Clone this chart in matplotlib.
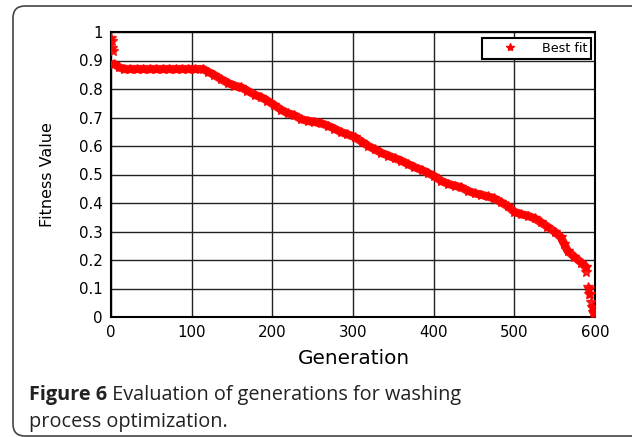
import matplotlib
matplotlib.use("Agg")
import matplotlib.pyplot as plt
import matplotlib.patches as mpatches
from matplotlib.lines import Line2D

# ---- data ----
gen_main = [4, 10, 16, 24, 32, 40, 48, 56, 64, 72, 80, 88, 96, 104, 114,
            120, 128, 136, 145, 153, 161, 169, 178, 186, 194, 202, 211, 219,
            227, 236, 244, 252, 260, 269, 277, 285, 293, 302, 311, 319, 327,
            335, 344, 352, 360, 368, 376, 385, 393, 401, 409, 418, 426, 434,
            442, 451, 459, 467, 475, 484, 492, 500, 508, 517, 525, 533, 541,
            550, 558, 562, 566, 574, 583, 589]
fit_main = [0.888, 0.876, 0.870, 0.870, 0.870, 0.870, 0.870, 0.870, 0.870,
            0.870, 0.870, 0.870, 0.870, 0.870, 0.870,
            0.861, 0.849, 0.835, 0.821, 0.812, 0.806, 0.794, 0.780, 0.771,
            0.759, 0.744, 0.727, 0.715, 0.708, 0.694, 0.688, 0.685, 0.680,
            0.671, 0.661, 0.649, 0.641, 0.631, 0.615, 0.600, 0.588, 0.576,
            0.566, 0.557, 0.548, 0.537, 0.526, 0.516, 0.505, 0.494, 0.478,
            0.467, 0.461, 0.455, 0.443, 0.434, 0.429, 0.423, 0.416, 0.402,
            0.388, 0.369, 0.361, 0.355, 0.346, 0.332, 0.317, 0.299, 0.279,
            0.255, 0.232, 0.212, 0.191, 0.174]
gen_scatter = [0, 1, 1, 2, 589, 591, 592, 593, 594, 595, 596, 597, 598, 599]
fit_scatter = [0.978, 0.969, 0.943, 0.933, 0.158, 0.105, 0.100, 0.082,
               0.080, 0.054, 0.035, 0.030, 0.018, 0.012]

xticks = [0, 100, 200, 300, 400, 500, 600]
yticks = [0, 0.1, 0.2, 0.3, 0.4, 0.5, 0.6, 0.7, 0.8, 0.9, 1]
ytick_labels = ["0", "0.1", "0.2", "0.3", "0.4", "0.5", "0.6", "0.7", "0.8", "0.9", "1"]

RED = "#ff0000"

fig = plt.figure(figsize=(6.32, 4.37), dpi=100)

# rounded frame around the figure
frame = mpatches.FancyBboxPatch((0.13, 0.01), 6.6, 4.30,
                                boxstyle="round,pad=0,rounding_size=0.12",
                                transform=fig.dpi_scale_trans,
                                facecolor="none", edgecolor="#444444", lw=1.2)
fig.patches.append(frame)

ax = fig.add_axes([111 / 632, 1 - 317 / 437, 484 / 632, 285 / 437])
ax.set_xlim(0, 600)
ax.set_ylim(0, 1)
ax.set_xticks(xticks)
ax.set_yticks(yticks)
ax.set_yticklabels(ytick_labels)
ax.tick_params(length=0, pad=6, labelsize=10.8, colors="black")
for lab in ax.get_xticklabels() + ax.get_yticklabels():
    lab.set_family("DejaVu Sans")
ax.grid(True, color="#222222", lw=1.0)
ax.set_axisbelow(True)
for sp in ax.spines.values():
    sp.set_linewidth(1.5)
    sp.set_color("black")

ax.plot(gen_main, fit_main, color=RED, lw=6.0, marker="*", ms=7.5,
        mec=RED, mfc=RED, solid_capstyle="round", alpha=0.92, zorder=3)
ax.plot(gen_scatter, fit_scatter, ls="none", color=RED, marker="*", ms=7.5,
        mec=RED, mfc=RED, alpha=0.85, zorder=3)

handle = Line2D([], [], ls="none", marker="*", ms=6, color=RED, mec=RED)
leg = ax.legend([handle], ["Best fit"], loc="upper right",
                bbox_to_anchor=(0.9917, 0.979), borderaxespad=0,
                fontsize=9.2, fancybox=False, framealpha=1,
                edgecolor="black", handlelength=3.8, handletextpad=0.6,
                borderpad=0.3)
leg.get_frame().set_linewidth(1.5)
for t in leg.get_texts():
    t.set_family("DejaVu Sans")

fig.text(354 / 632, 1 - 358 / 437, "Generation", ha="center", va="center",
         fontsize=14.4, family="DejaVu Sans")
fig.text(48 / 632, 1 - 175 / 437, "Fitness Value", ha="center", va="center",
         rotation=90, fontsize=11.5, family="DejaVu Sans")

# caption
cap_fs = 14.3
cap_col = "#222222"
t1 = fig.text(29 / 632, 1 - 400 / 437, "Figure 6", fontsize=cap_fs,
              fontweight="bold", family="Open Sans", color=cap_col,
              va="baseline")
t2 = fig.add_artist(plt.Annotation(" Evaluation of generations for washing",
                                   xy=(1, 0), xycoords=t1, va="bottom",
                                   ha="left", fontsize=cap_fs,
                                   family="Open Sans", color=cap_col))
fig.text(29 / 632, 1 - 427 / 437, "process optimization.", fontsize=cap_fs,
         family="Open Sans", color=cap_col, va="baseline")

fig.savefig("out.png", dpi=100)
